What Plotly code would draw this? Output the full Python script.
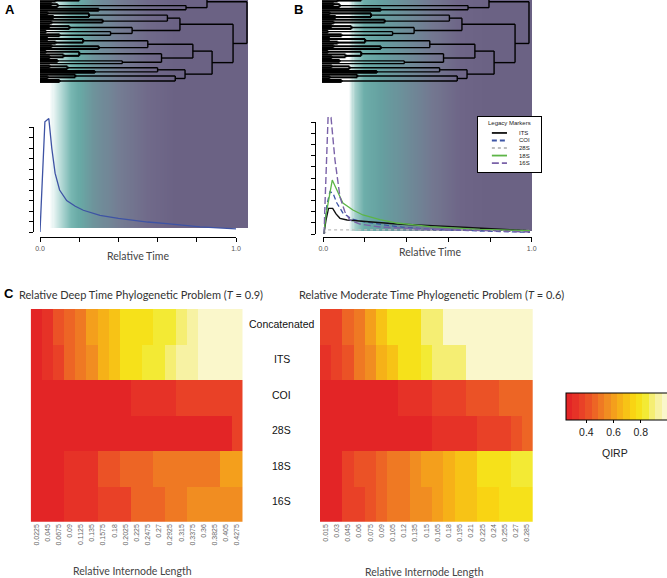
import numpy as np
import plotly.graph_objects as go

W, H = 667, 578

# ---------------- data ----------------
# phylogeny (tips '*', internal nodes followed by their relative age)
TREE_TOP = "((((*,*)0.03,*)0.10,((*,*)0.05,(*,*)0.08)0.20)0.50,(((*,*)0.06,*)0.09,(*,*)0.30)0.745)0.852"
TREE_A1 = "((((*,*)0.04,(*,*)0.07)0.25,(*,(*,*)0.06)0.32)0.65,(((*,*)0.05,*)0.15,((*,*)0.03,(*,*)0.10)0.36)0.47)0.714"
TREE_A2 = ("(((((*,*)0.04,(*,*)0.08)0.22,((*,*)0.06,*)0.30)0.55,(((*,*)0.03,(*,(*,*)0.05)0.12)0.20,"
           "((*,*)0.09,*)0.42)0.62)0.78,((((*,*)0.05,*)0.14,(*,*)0.28)0.60,((*,(*,*)0.04)0.18,(*,*)0.10)0.69)0.74)0.878")
TREE = "(" + TREE_TOP + ",(" + TREE_A1 + "," + TREE_A2 + ")0.985)1.056"

# panel A: phylogenetic informativeness profile
A_TIME = [0.0, 0.025, 0.045, 0.06, 0.077, 0.10, 0.136, 0.18, 0.221, 0.306, 0.40, 0.474, 0.55, 0.648, 0.816, 1.01]
A_SIGNAL = [0.0, 10.5, 10.8, 8.0, 5.6, 4.0, 3.0, 2.45, 2.07, 1.59, 1.3, 1.11, 0.95, 0.79, 0.48, 0.29]

# panel B: legacy markers
ITS_T = [0.003, 0.013, 0.025, 0.045, 0.061, 0.080, 0.114, 0.354, 0.670, 0.992]
ITS_V = [0.0, 1.25, 2.29, 2.29, 1.79, 1.40, 1.25, 0.89, 0.60, 0.29]
COI_T = [0.003, 0.017, 0.032, 0.046, 0.065, 0.094, 0.137, 0.190, 0.354, 0.512, 0.752, 0.992]
COI_V = [0.0, 2.59, 3.78, 3.66, 2.77, 1.88, 1.34, 1.10, 0.65, 0.42, 0.27, 0.15]
S28_T = [0.003, 0.02, 0.5, 0.992]
S28_V = [0.0, 0.36, 0.36, 0.31]
S18_T = [0.003, 0.013, 0.043, 0.065, 0.094, 0.142, 0.190, 0.272, 0.354, 0.512, 0.752, 0.992]
S18_V = [0.0, 1.7, 4.82, 3.93, 2.77, 2.14, 1.70, 1.29, 0.98, 0.65, 0.42, 0.29]
S16_T = [0.003, 0.023, 0.037, 0.056, 0.080, 0.104, 0.128, 0.176, 0.272, 0.464, 0.752, 0.992]
S16_V = [0.0, 10.45, 10.4, 6.61, 3.30, 1.96, 1.25, 0.89, 0.625, 0.446, 0.31, 0.18]

MARKER_NAMES = ["ITS", "COI", "28S", "18S", "16S"]

# panel C: QIRP heatmaps
ROWS = ["Concatenated", "ITS", "COI", "28S", "18S", "16S"]
DEEP_LEN = ["0.0225", "0.045", "0.0675", "0.09", "0.1125", "0.135", "0.1575", "0.18", "0.2025", "0.225",
            "0.2475", "0.27", "0.2925", "0.315", "0.3375", "0.36", "0.3825", "0.405", "0.4275"]
MOD_LEN = ["0.015", "0.03", "0.045", "0.06", "0.075", "0.09", "0.105", "0.12", "0.135", "0.15",
           "0.165", "0.18", "0.195", "0.21", "0.225", "0.24", "0.255", "0.27", "0.285"]
DEEP_QIRP = [
    [0.27, 0.32, 0.42, 0.47, 0.52, 0.58, 0.64, 0.71, 0.79, 0.81, 0.81, 0.82, 0.82, 0.90, 0.91, 0.97, 0.97, 0.97, 0.97],
    [0.27, 0.31, 0.38, 0.47, 0.52, 0.57, 0.63, 0.70, 0.78, 0.81, 0.82, 0.82, 0.90, 0.91, 0.91, 0.97, 0.97, 0.97, 0.97],
    [0.26, 0.26, 0.26, 0.28, 0.28, 0.28, 0.28, 0.28, 0.28, 0.31, 0.31, 0.31, 0.31, 0.36, 0.36, 0.36, 0.36, 0.36, 0.36],
    [0.26, 0.26, 0.26, 0.27, 0.27, 0.27, 0.26, 0.26, 0.26, 0.26, 0.26, 0.26, 0.29, 0.29, 0.29, 0.29, 0.29, 0.29, 0.39],
    [0.27, 0.29, 0.29, 0.34, 0.34, 0.34, 0.40, 0.40, 0.45, 0.45, 0.45, 0.49, 0.49, 0.49, 0.53, 0.53, 0.53, 0.60, 0.60],
    [0.27, 0.29, 0.29, 0.34, 0.34, 0.34, 0.38, 0.38, 0.38, 0.45, 0.45, 0.45, 0.50, 0.50, 0.54, 0.54, 0.54, 0.54, 0.54],
]
MOD_QIRP = [
    [0.35, 0.38, 0.46, 0.50, 0.60, 0.68, 0.78, 0.80, 0.81, 0.89, 0.90, 0.97, 0.97, 0.97, 0.97, 0.97, 0.97, 0.97, 0.97],
    [0.30, 0.36, 0.42, 0.49, 0.57, 0.64, 0.71, 0.78, 0.80, 0.82, 0.89, 0.89, 0.90, 0.97, 0.97, 0.97, 0.97, 0.97, 0.97],
    [0.26, 0.26, 0.26, 0.26, 0.29, 0.29, 0.29, 0.33, 0.33, 0.33, 0.38, 0.38, 0.38, 0.41, 0.41, 0.41, 0.46, 0.46, 0.46],
    [0.26, 0.26, 0.26, 0.25, 0.25, 0.25, 0.25, 0.28, 0.28, 0.28, 0.33, 0.33, 0.33, 0.33, 0.36, 0.36, 0.36, 0.40, 0.46],
    [0.27, 0.29, 0.36, 0.42, 0.42, 0.47, 0.50, 0.50, 0.57, 0.60, 0.60, 0.66, 0.70, 0.70, 0.78, 0.78, 0.78, 0.82, 0.82],
    [0.27, 0.28, 0.36, 0.36, 0.42, 0.46, 0.49, 0.51, 0.55, 0.56, 0.62, 0.63, 0.68, 0.69, 0.75, 0.75, 0.77, 0.77, 0.81],
]
QIRP_TICKS = [0.4, 0.6, 0.8]
TIME_TICKS = [0.0, 0.2, 0.4, 0.6, 0.8, 1.0]
TIME_TICKTEXT = ["0.0", "", "", "", "", "1.0"]

# ---------------- styles ----------------
FONT = "Liberation Sans"
SOFT = "Lato"
MARKER_STYLE = {
    "ITS": dict(color="#111111", width=1.4, dash="solid"),
    "COI": dict(color="#3E56A6", width=1.3, dash="5px,3px"),
    "28S": dict(color="#BDBDBD", width=1.3, dash="3px,3px"),
    "18S": dict(color="#5DB547", width=1.3, dash="solid"),
    "16S": dict(color="#7A62A8", width=1.4, dash="7px,3px"),
}
GRAD_A = [[0, "#FFFFFF"], [0.048, "#FFFFFF"], [0.09, "#C2E1DE"], [0.15, "#78B7B2"], [0.19, "#68A9A5"],
          [0.26, "#6E939B"], [0.38, "#747D93"], [0.52, "#706A8A"], [0.65, "#6B6284"], [1, "#6B6284"]]
GRAD_B = [[0, "#FFFFFF"], [0.13, "#FFFFFF"], [0.155, "#A6D0CC"], [0.20, "#6DAEAA"], [0.28, "#65A0A0"],
          [0.40, "#6D8D99"], [0.53, "#737790"], [0.66, "#6E6587"], [0.78, "#6B6284"], [1, "#6B6284"]]
HEAT_ANCH = [(0.0, "#E21F26"), (0.133, "#E83A28"), (0.267, "#ED6025"), (0.4, "#F18B21"), (0.533, "#F6B218"),
             (0.667, "#F9D713"), (0.76, "#F3E91F"), (0.867, "#F5EF8A"), (1.0, "#FCFADF")]
SHALLOW = 0.36   # branches younger than this are drawn heavier (dense black tip region)


def hex2rgb(h):
    return [int(h[i:i + 2], 16) for i in (1, 3, 5)]


def heat_at(f):
    for (f0, c0), (f1, c1) in zip(HEAT_ANCH[:-1], HEAT_ANCH[1:]):
        if f0 <= f <= f1:
            a, b = hex2rgb(c0), hex2rgb(c1)
            u = (f - f0) / (f1 - f0)
            return "rgb(%d,%d,%d)" % tuple(round(a[i] + (b[i] - a[i]) * u) for i in range(3))
    return HEAT_ANCH[-1][1]


NB = 16
STEP_SCALE = []
for k in range(NB):
    c = heat_at((k + 0.5) / NB)
    STEP_SCALE.append([k / NB, c])
    STEP_SCALE.append([(k + 1) / NB, c])


def px_x(a):
    return a / W


def px_y(b):
    return 1 - b / H


def dom_x(a, b):
    return [a / W, b / W]


def dom_y(top, bottom):
    return [1 - bottom / H, 1 - top / H]


# ---------------- tree layout ----------------
def parse(s, i=0):
    if s[i] == "*":
        return {"t": 0.0, "c": []}, i + 1
    i += 1
    kids = []
    while True:
        node, i = parse(s, i)
        kids.append(node)
        if s[i] == ",":
            i += 1
            continue
        i += 1
        break
    j = i
    while j < len(s) and (s[j].isdigit() or s[j] == "."):
        j += 1
    return {"t": float(s[i:j]), "c": kids}, j


def layout_tree(root):
    seg = {"deep": ([], []), "shallow": ([], [])}
    counter = [0]

    def add(kind, x0, x1, y0, y1):
        xs, ys = seg[kind]
        xs.extend([x0, x1, None])
        ys.extend([y0, y1, None])

    def place(n):
        if not n["c"]:
            n["y"] = counter[0]
            counter[0] += 1
            return
        for c in n["c"]:
            place(c)
        n["y"] = (n["c"][0]["y"] + n["c"][-1]["y"]) / 2
        kind = "shallow" if n["t"] < SHALLOW else "deep"
        add(kind, n["t"], n["t"], n["c"][0]["y"], n["c"][-1]["y"])
        for c in n["c"]:
            add(kind, c["t"], n["t"], c["y"], c["y"])

    place(root)
    return seg


tree_root, _ = parse(TREE)
SEG = layout_tree(tree_root)

fig = go.Figure()

# gradient backgrounds (panels A and B)
gpos = list(np.linspace(0.0025, 0.9975, 200))
for ax, scale in (("", GRAD_A), ("2", GRAD_B)):
    fig.add_trace(go.Heatmap(x=gpos, y=[0.25, 0.75], z=[gpos, gpos], colorscale=scale, zmin=0, zmax=1,
                             showscale=False, hoverinfo="skip", xaxis="x" + ax, yaxis="y" + ax))

# trees
for ax in ("3", "4"):
    for kind, wdt in (("deep", 1.4), ("shallow", 2.1)):
        xs, ys = SEG[kind]
        fig.add_trace(go.Scatter(x=xs, y=ys, mode="lines", line=dict(color="black", width=wdt),
                                 hoverinfo="skip", showlegend=False, xaxis="x" + ax, yaxis="y" + ax))

# panel A curve
fig.add_trace(go.Scatter(x=[None], y=[None], xaxis="x5", yaxis="y5", showlegend=False, hoverinfo="skip"))
fig.add_trace(go.Scatter(x=A_TIME, y=A_SIGNAL, mode="lines", line=dict(color="#3E53A4", width=1.3),
                         showlegend=False, xaxis="x5", yaxis="y6"))

# panel B curves
fig.add_trace(go.Scatter(x=[None], y=[None], xaxis="x7", yaxis="y7", showlegend=False, hoverinfo="skip"))
B_SERIES = {"28S": (S28_T, S28_V), "COI": (COI_T, COI_V), "ITS": (ITS_T, ITS_V),
            "18S": (S18_T, S18_V), "16S": (S16_T, S16_V)}
for name in ["28S", "COI", "ITS", "18S", "16S"]:
    t, v = B_SERIES[name]
    fig.add_trace(go.Scatter(x=t, y=v, mode="lines", name=name, line=MARKER_STYLE[name],
                             showlegend=False, xaxis="x7", yaxis="y8"))

# custom legend (Legacy Markers)
for k, name in enumerate(MARKER_NAMES):
    yk = 0.29 + k * 0.137
    st = dict(MARKER_STYLE[name])
    st["width"] = 1.8
    fig.add_trace(go.Scatter(x=[0.22, 0.46], y=[yk, yk], mode="lines", line=st, hoverinfo="skip",
                             showlegend=False, xaxis="x9", yaxis="y9"))

# heatmaps
fig.add_trace(go.Heatmap(z=DEEP_QIRP, x=DEEP_LEN, y=ROWS, coloraxis="coloraxis", xaxis="x10", yaxis="y10",
                         hovertemplate="%{y} %{x}: %{z}<extra></extra>"))
fig.add_trace(go.Heatmap(z=MOD_QIRP, x=MOD_LEN, y=ROWS, coloraxis="coloraxis", xaxis="x11", yaxis="y11",
                         hovertemplate="%{y} %{x}: %{z}<extra></extra>"))

hidden = dict(visible=False, fixedrange=True, showgrid=False, zeroline=False)
axline = dict(showline=True, linecolor="black", linewidth=1.3, ticks="outside", ticklen=4, tickwidth=1.3,
              tickcolor="black", showgrid=False, zeroline=False, fixedrange=True)

layout = dict(
    width=W, height=H, margin=dict(l=0, r=0, t=0, b=0, autoexpand=False),
    paper_bgcolor="white", plot_bgcolor="rgba(0,0,0,0)", showlegend=False,
    font=dict(family=FONT, color="#222"),
    xaxis=dict(hidden, domain=dom_x(40, 248), range=[0, 1], anchor="y"),
    yaxis=dict(hidden, domain=dom_y(0, 228), range=[0, 1], anchor="x"),
    xaxis2=dict(hidden, domain=dom_x(322, 532), range=[0, 1], anchor="y2"),
    yaxis2=dict(hidden, domain=dom_y(0, 231), range=[0, 1], anchor="x2"),
    xaxis3=dict(hidden, domain=dom_x(40, 248), range=[0, 208 / 196], anchor="y3"),
    yaxis3=dict(hidden, domain=dom_y(0, 83), range=[50.6, 5.2], anchor="x3"),
    xaxis4=dict(hidden, domain=dom_x(322, 532), range=[0, 210 / 196], anchor="y4"),
    yaxis4=dict(hidden, domain=dom_y(0, 83), range=[50.6, 5.2], anchor="x4"),
    xaxis5=dict(axline, domain=dom_x(40, 236), range=[0, 1], anchor="free", position=px_y(237),
                tickvals=TIME_TICKS, ticktext=TIME_TICKTEXT, tickfont=dict(size=7, color="#555")),
    yaxis5=dict(axline, domain=dom_y(127, 232), range=[0, 10], anchor="free", position=px_x(33),
                tickvals=list(range(11)), showticklabels=False),
    yaxis6=dict(hidden, domain=dom_y(112, 232), range=[0, 120 / 10.5], anchor="free", position=px_x(40)),
    xaxis7=dict(axline, domain=dom_x(323.3, 531.7), range=[0, 1], anchor="free", position=px_y(237),
                tickvals=TIME_TICKS, ticktext=TIME_TICKTEXT, tickfont=dict(size=7, color="#555")),
    yaxis7=dict(axline, domain=dom_y(122, 234), range=[0, 10], anchor="free", position=px_x(315),
                tickvals=list(range(11)), showticklabels=False),
    yaxis8=dict(hidden, domain=dom_y(110, 234), range=[0, 124 / 11.2], anchor="free", position=px_x(323)),
    xaxis9=dict(domain=dom_x(478, 541), range=[0, 1], anchor="y9", showline=True, mirror=True,
                linecolor="black", linewidth=1, showticklabels=False, ticks="", showgrid=False,
                zeroline=False, fixedrange=True),
    yaxis9=dict(domain=dom_y(117, 172), range=[1, 0], anchor="x9", showline=True, mirror=True,
                linecolor="black", linewidth=1, showticklabels=False, ticks="", showgrid=False,
                zeroline=False, fixedrange=True),
    xaxis10=dict(domain=dom_x(30.7, 242.7), anchor="y10", type="category", tickmode="array",
                 tickvals=DEEP_LEN, ticktext=DEEP_LEN, tickangle=-90, ticks="", showgrid=False,
                 zeroline=False, tickfont=dict(size=7, color="#666"), fixedrange=True),
    yaxis10=dict(domain=dom_y(309, 521.7), anchor="x10", type="category", autorange="reversed",
                 showticklabels=False, ticks="", showgrid=False, zeroline=False, fixedrange=True),
    xaxis11=dict(domain=dom_x(320, 532.7), anchor="y11", type="category", tickmode="array",
                 tickvals=MOD_LEN, ticktext=MOD_LEN, tickangle=-90, ticks="", showgrid=False,
                 zeroline=False, tickfont=dict(size=7, color="#666"), fixedrange=True),
    yaxis11=dict(domain=dom_y(309, 521.7), anchor="x11", type="category", autorange="reversed",
                 showticklabels=False, ticks="", showgrid=False, zeroline=False, fixedrange=True),
    coloraxis=dict(cmin=0.25, cmax=1.0, colorscale=STEP_SCALE,
                   colorbar=dict(orientation="h", x=px_x(566), xanchor="left", y=px_y(393), yanchor="top",
                                 len=102, lenmode="pixels", thickness=27, thicknessmode="pixels",
                                 xpad=0, ypad=0, outlinewidth=1, outlinecolor="black",
                                 tickvals=QIRP_TICKS, ticks="outside", ticklen=3, tickcolor="black",
                                 tickfont=dict(size=10.5, family=FONT, color="#222"))),
    shapes=[dict(type="rect", xref="x9", yref="y9", x0=0, x1=1, y0=0, y1=1, fillcolor="white",
                 line=dict(width=0), layer="below")],
)
fig.update_layout(**layout)

anns = []


def ann(text, x, y, size, color="#222", family=FONT, xanchor="center", **kw):
    anns.append(dict(text=text, x=px_x(x), y=px_y(y), xref="paper", yref="paper", showarrow=False,
                     xanchor=xanchor, yanchor="middle", font=dict(size=size, color=color, family=family), **kw))


ann("<b>A</b>", 3, 9, 13, color="black", xanchor="left")
ann("<b>B</b>", 292, 9, 13, color="black", xanchor="left")
ann("<b>C</b>", 2, 293, 13, color="black", xanchor="left")
ann("Relative Time", 138, 256, 10.5, color="#444", family=SOFT)
ann("Relative Time", 430, 252, 10.5, color="#444", family=SOFT)
ann("Relative Deep Time Phylogenetic Problem (<i>T</i> = 0.9)", 141, 294, 11, color="#333", family=SOFT)
ann("Relative Moderate Time Phylogenetic Problem (<i>T</i> = 0.6)", 431, 294, 11, color="#333", family=SOFT)
ann("Relative Internode Length", 132, 571, 10.5, color="#444", family=SOFT)
ann("Relative Internode Length", 425, 572, 10.5, color="#444", family=SOFT)
for r, yy in zip(ROWS, [323.5, 359, 394.5, 430, 465.5, 501]):
    ann(r, 281.5, yy, 10.5, color="#111")
ann("QIRP", 615, 453, 10.5, color="#222")
# legend texts
anns.append(dict(text="Legacy Markers", x=0.5, y=0.1, xref="x9", yref="y9", showarrow=False,
                 font=dict(size=6, family=FONT, color="#222")))
for k, name in enumerate(MARKER_NAMES):
    anns.append(dict(text=name, x=0.62, y=0.29 + k * 0.137, xref="x9", yref="y9", showarrow=False,
                     xanchor="left", font=dict(size=6, family=FONT, color="#222")))
fig.update_layout(annotations=anns)

fig.write_html("out.html", config={"displayModeBar": False},
               post_script="document.body.style.margin='0px';document.body.style.padding='0px';")
